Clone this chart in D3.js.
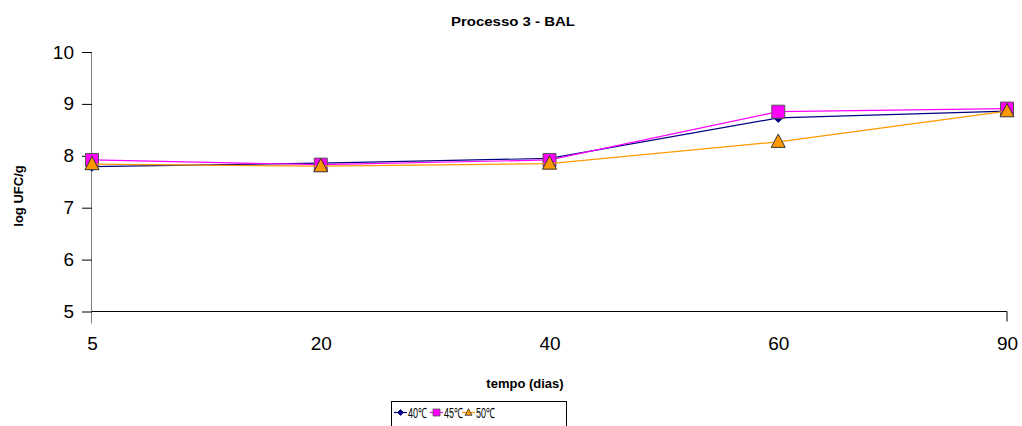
<!DOCTYPE html>
<html>
<head>
<meta charset="utf-8">
<script src="https://cdn.jsdelivr.net/npm/d3@7"></script>
<style>
  body { margin: 0; background: #fff; }
  svg { display: block; font-family: 'Liberation Sans', Arial, sans-serif; }
</style>
</head>
<body>
<svg width="1022" height="426"></svg>
<script>
const days = ['5', '20', '40', '60', '90'];
const yTicks = [5, 6, 7, 8, 9, 10];
const series = ['40℃', '45℃', '50℃'];
const values40 = [7.79, 7.86, 7.95, 8.73, 8.86];
const values45 = [7.92, 7.83, 7.92, 8.85, 8.91];
const values50 = [7.84, 7.80, 7.85, 8.27, 8.86];

const svg = d3.select('svg');
const margin = { left: 92, right: 15, top: 52, bottom: 115 };
const width = 1022, height = 426;

const x = d3.scalePoint().domain(days).range([margin.left, width - margin.right]);
const y = d3.scaleLinear().domain([5, 10]).range([311.5, 52]);

const style = [
  { name: series[0], data: values40, line: '#000080', fill: '#000080', stroke: '#000080', shape: 'diamond' },
  { name: series[1], data: values45, line: '#FF00FF', fill: '#FF00FF', stroke: '#555', shape: 'square' },
  { name: series[2], data: values50, line: '#FF9900', fill: '#FF9900', stroke: '#333', shape: 'triangle' },
];

// title
svg.append('text')
  .attr('x', 513).attr('y', 26)
  .attr('text-anchor', 'middle')
  .attr('textLength', 124).attr('lengthAdjust', 'spacingAndGlyphs')
  .style('font-size', '13.5px').style('font-weight', 'bold')
  .text('Processo 3 - BAL');

// axes
const yAxis = svg.append('g')
  .attr('transform', `translate(${margin.left},0)`)
  .call(d3.axisLeft(y).tickValues(yTicks).tickSize(10).tickPadding(8).tickFormat(d3.format('d')));
yAxis.select('.domain').attr('stroke', '#808080').attr('d', `M-0.5,${y(10)}V${y(5) + 12}`);
yAxis.selectAll('.tick line').attr('stroke', '#000');
yAxis.selectAll('text').style('font-size', '19px');

const xAxis = svg.append('g')
  .attr('transform', `translate(0,${y(5)})`)
  .call(d3.axisBottom(x).tickSize(0).tickPadding(25));
xAxis.select('.domain').attr('stroke', '#000').attr('d', `M${margin.left},0H${width - margin.right}V10`);
xAxis.selectAll('text').style('font-size', '19px');

// axis titles
svg.append('text')
  .attr('x', 525).attr('y', 388)
  .attr('text-anchor', 'middle')
  .style('font-size', '13px').style('font-weight', 'bold')
  .text('tempo (dias)');

svg.append('text')
  .attr('transform', 'translate(23,196) rotate(-90)')
  .attr('text-anchor', 'middle')
  .style('font-size', '13px').style('font-weight', 'bold')
  .text('log UFC/g');

const symbolPath = (shape, s) => {
  if (shape === 'diamond') return `M0,${-s}L${s},0L0,${s}L${-s},0Z`;
  if (shape === 'square') return `M${-s},${-s}H${s}V${s}H${-s}Z`;
  return `M0,${-s * 1.1}L${s},${s * 0.8}H${-s}Z`;
};
const sizes = { diamond: 4.5, square: 6.5, triangle: 7 };

const line = d3.line().x((d, i) => x(days[i])).y(d => y(d));

for (const s of style) {
  const g = svg.append('g');
  g.append('path')
    .attr('d', line(s.data))
    .attr('fill', 'none')
    .attr('stroke', s.line)
    .attr('stroke-width', 1.2);
  g.selectAll('path.mark')
    .data(s.data)
    .join('path')
    .attr('class', 'mark')
    .attr('transform', (d, i) => `translate(${x(days[i])},${y(d)})`)
    .attr('d', symbolPath(s.shape, sizes[s.shape]))
    .attr('fill', s.fill)
    .attr('stroke', s.stroke)
    .attr('stroke-width', 1);
}

// legend
const legend = svg.append('g').attr('transform', 'translate(391.5,401.5)');
legend.append('rect')
  .attr('width', 175).attr('height', 30)
  .attr('fill', '#fff').attr('stroke', '#000');
const legendX = [2.5, 38.5, 70.5];
style.forEach((s, i) => {
  const item = legend.append('g').attr('transform', `translate(${legendX[i]},11)`);
  item.append('line').attr('x1', 0).attr('x2', 13).attr('stroke', s.line).attr('stroke-width', 1.2);
  item.append('path')
    .attr('transform', 'translate(6.5,0)')
    .attr('d', symbolPath(s.shape, s.shape === 'diamond' ? 3 : 3.5))
    .attr('fill', s.fill).attr('stroke', s.stroke).attr('stroke-width', 0.8);
  item.append('text')
    .attr('x', 14).attr('y', 5)
    .attr('textLength', 19).attr('lengthAdjust', 'spacingAndGlyphs')
    .style('font-size', '14px')
    .text(s.name);
});
</script>
</body>
</html>
